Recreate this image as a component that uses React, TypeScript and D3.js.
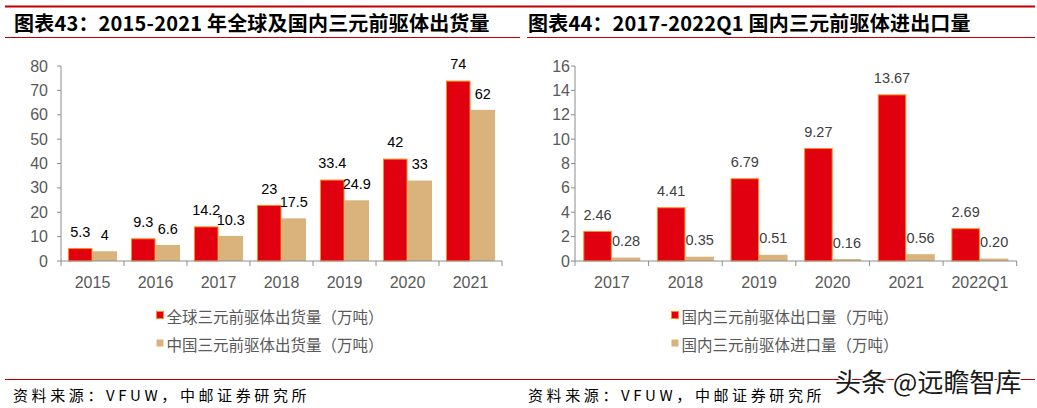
import React from "react";
import * as d3 from "d3";

// Left chart data
const leftCategories = ["2015", "2016", "2017", "2018", "2019", "2020", "2021"];
const globalShipments = [5.3, 9.3, 14.2, 23, 33.4, 42, 74];
const chinaShipments = [4, 6.6, 10.3, 17.5, 24.9, 33, 62];
const leftTicks = [0, 10, 20, 30, 40, 50, 60, 70, 80];
const leftSeriesNames = ["全球三元前驱体出货量（万吨）", "中国三元前驱体出货量（万吨）"];
const leftTitle = "图表43：2015-2021 年全球及国内三元前驱体出货量";

// Right chart data
const rightCategories = ["2017", "2018", "2019", "2020", "2021", "2022Q1"];
const exportVolume = [2.46, 4.41, 6.79, 9.27, 13.67, 2.69];
const importVolume = [0.28, 0.35, 0.51, 0.16, 0.56, 0.2];
const rightTicks = [0, 2, 4, 6, 8, 10, 12, 14, 16];
const rightSeriesNames = ["国内三元前驱体出口量（万吨）", "国内三元前驱体进口量（万吨）"];
const rightTitle = "图表44：2017-2022Q1 国内三元前驱体进出口量";

const sourceText = "资料来源：VFUW，中邮证券研究所";
const watermark = "头条 @远瞻智库";

const RED = "#e0000f";
const ORANGE = "#ff8a1f";
const TAN = "#d9b27c";
const AXIS = "#8c8c8c";
const TICK_TEXT = "#595959";
const LINE_RED = "#c00000";
const NUM_FONT = "'Liberation Sans', Arial, sans-serif";
const CJK_FONT = "'Noto Sans CJK SC', 'Liberation Sans', sans-serif";

type ChartProps = {
  categories: string[];
  s1: number[];
  s2: number[];
  ticks: number[];
  x0: number;
  x1: number;
  yTop: number;
  yBottom: number;
  pad: number;
  fmt: (v: number) => string;
  labelColor: string;
  tickFont: number;
  tickLabelGap: number;
  names: string[];
  legendX: number;
};

function BarChart(p: ChartProps) {
  const y = d3
    .scaleLinear()
    .domain([0, p.ticks[p.ticks.length - 1]])
    .range([p.yBottom, p.yTop]);
  const x = d3.scaleBand<string>().domain(p.categories).range([p.x0, p.x1]).padding(0);
  const bw = x.bandwidth();
  const inner = d3
    .scaleBand<string>()
    .domain(["a", "b"])
    .range([p.pad, bw - p.pad])
    .padding(0);
  const ibw = inner.bandwidth();
  const boundaries = p.categories.map((c) => x(c)!).concat([p.x1]);
  return (
    <g>
      <line x1={p.x0} x2={p.x0} y1={p.yTop} y2={p.yBottom} stroke={AXIS} strokeWidth={1} />
      {p.ticks.map((t) => (
        <g key={t}>
          <line x1={p.x0 - 4} x2={p.x0} y1={y(t)} y2={y(t)} stroke={AXIS} strokeWidth={1} />
          <text
            x={p.x0 - p.tickLabelGap}
            y={y(t)}
            textAnchor="end"
            dominantBaseline="central"
            fontFamily={NUM_FONT}
            fontSize={p.tickFont}
            fill={TICK_TEXT}
          >
            {t}
          </text>
        </g>
      ))}
      {p.categories.map((c, i) => {
        const gx = x(c)!;
        const ax = gx + inner("a")!;
        const bx = gx + inner("b")!;
        const v1 = p.s1[i];
        const v2 = p.s2[i];
        return (
          <g key={c}>
            <rect x={bx} y={y(v2)} width={ibw} height={p.yBottom - y(v2)} fill={TAN} />
            <rect
              x={ax + 0.5}
              y={y(v1) + 0.5}
              width={ibw - 1}
              height={p.yBottom - y(v1) - 0.5}
              fill={RED}
              stroke={ORANGE}
              strokeWidth={1}
            />
          </g>
        );
      })}
      <line x1={p.x0} x2={p.x1} y1={p.yBottom} y2={p.yBottom} stroke={AXIS} strokeWidth={1} />
      {boundaries.map((bx, i) => (
        <line key={i} x1={bx} x2={bx} y1={p.yBottom} y2={p.yBottom + 5} stroke={AXIS} strokeWidth={1} />
      ))}
      {p.categories.map((c) => (
        <text
          key={c}
          x={x(c)! + bw / 2}
          y={282}
          textAnchor="middle"
          dominantBaseline="central"
          fontFamily={NUM_FONT}
          fontSize={p.tickFont}
          fill={TICK_TEXT}
        >
          {c}
        </text>
      ))}
      {p.categories.map((c, i) => {
        const gx = x(c)!;
        return (
          <g key={c}>
            <text
              x={gx + inner("a")! + ibw / 2}
              y={y(p.s1[i]) - 16.3}
              textAnchor="middle"
              dominantBaseline="central"
              fontFamily={NUM_FONT}
              fontSize={14.5}
              fill={p.labelColor}
            >
              {p.fmt(p.s1[i])}
            </text>
            <text
              x={gx + inner("b")! + ibw / 2}
              y={y(p.s2[i]) - 16.3}
              textAnchor="middle"
              dominantBaseline="central"
              fontFamily={NUM_FONT}
              fontSize={14.5}
              fill={p.labelColor}
            >
              {p.fmt(p.s2[i])}
            </text>
          </g>
        );
      })}
      {p.names.map((n, i) => (
        <g key={n}>
          <rect
            x={p.legendX + 0.5}
            y={311.5 + i * 28}
            width={7}
            height={7}
            fill={i === 0 ? RED : TAN}
            stroke={i === 0 ? ORANGE : "none"}
            strokeWidth={1}
          />
          <text
            x={p.legendX + 10.5}
            y={316 + i * 28}
            dominantBaseline="central"
            fontFamily={CJK_FONT}
            fontSize={15.5}
            fill={TICK_TEXT}
          >
            {n}
          </text>
        </g>
      ))}
    </g>
  );
}

export default function App() {
  return (
    <svg
      width={1037}
      height={408}
      style={{ position: "absolute", left: 0, top: 0, background: "#fff" }}
    >
      <rect width={1037} height={408} fill="#fff" />
      <line x1={5} x2={1035} y1={6.5} y2={6.5} stroke={LINE_RED} strokeWidth={2} />
      <line x1={5} x2={520} y1={37.5} y2={37.5} stroke={LINE_RED} strokeWidth={1} />
      <line x1={527} x2={1035} y1={37.5} y2={37.5} stroke={LINE_RED} strokeWidth={1} />
      <text x={14} y={22} dominantBaseline="central" fontFamily={CJK_FONT} fontWeight="bold" fontSize={20} letterSpacing={0.2} fill="#000">
        {leftTitle}
      </text>
      <text x={528} y={22} dominantBaseline="central" fontFamily={CJK_FONT} fontWeight="bold" fontSize={20} letterSpacing={0.2} fill="#000">
        {rightTitle}
      </text>

      <BarChart
        categories={leftCategories}
        s1={globalShipments}
        s2={chinaShipments}
        ticks={leftTicks}
        x0={61}
        x1={502}
        yTop={66}
        yBottom={261}
        pad={7}
        fmt={(v) => String(v)}
        labelColor="#000"
        tickFont={16}
        tickLabelGap={13}
        names={leftSeriesNames}
        legendX={156}
      />
      <BarChart
        categories={rightCategories}
        s1={exportVolume}
        s2={importVolume}
        ticks={rightTicks}
        x0={575}
        x1={1016.7}
        yTop={66}
        yBottom={261}
        pad={8.3}
        fmt={(v) => v.toFixed(2)}
        labelColor="#404040"
        tickFont={16}
        tickLabelGap={5}
        names={rightSeriesNames}
        legendX={671}
      />

      <line x1={5} x2={1035} y1={379.5} y2={379.5} stroke={LINE_RED} strokeWidth={1} />
      <text x={13} y={394} dominantBaseline="central" fontFamily={CJK_FONT} fontSize={15} letterSpacing={3.6} fill="#000">
        {sourceText}
      </text>
      <text x={528} y={394} dominantBaseline="central" fontFamily={CJK_FONT} fontSize={15} letterSpacing={3.6} fill="#000">
        {sourceText}
      </text>
      <text
        x={835}
        y={380}
        dominantBaseline="central"
        fontFamily={CJK_FONT}
        fontSize={26}
        fill="#1a1a1a"
        stroke="#fff"
        strokeWidth={3}
        paintOrder="stroke"
      >
        {watermark}
      </text>
    </svg>
  );
}
